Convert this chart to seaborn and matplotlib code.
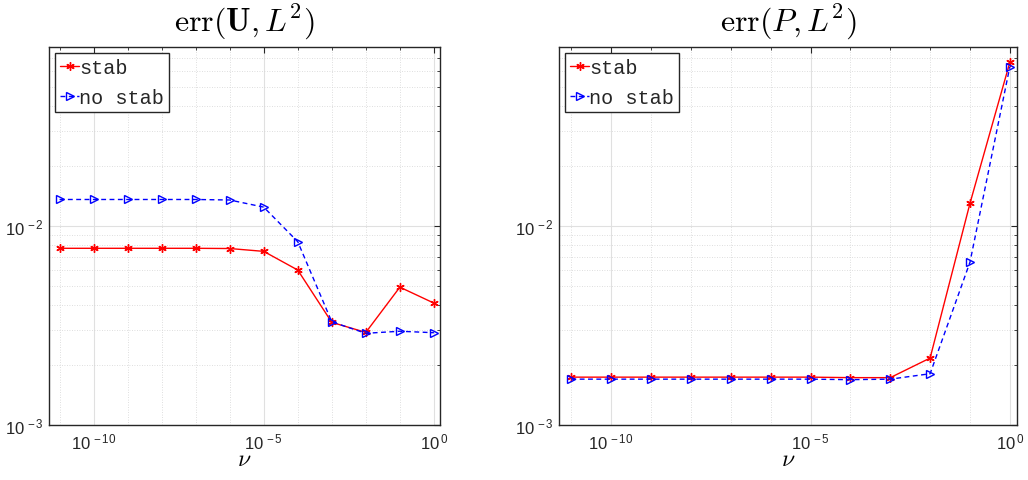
import math
import matplotlib
matplotlib.use("Agg")
import matplotlib.pyplot as plt
import matplotlib.ticker as mticker
import pandas as pd
import seaborn as sns

# ---- data ----
nu = [1e-11, 1e-10, 1e-9, 1e-8, 1e-7, 1e-6, 1e-5, 1e-4, 1e-3, 1e-2, 1e-1, 1e0]
u_stab = [0.00773, 0.00773, 0.00773, 0.00773, 0.00773, 0.00771,
          0.00746, 0.00601, 0.00328, 0.00292, 0.00493, 0.00410]
u_nostab = [0.0136, 0.0136, 0.0136, 0.0136, 0.0136, 0.01352,
            0.01245, 0.00834, 0.00330, 0.00289, 0.00296, 0.00291]
p_stab = [0.00174, 0.00174, 0.00174, 0.00174, 0.00174, 0.00174,
          0.00174, 0.00173, 0.00173, 0.00217, 0.0130, 0.0665]
p_nostab = [0.00170, 0.00170, 0.00170, 0.00170, 0.00170, 0.00170,
            0.00170, 0.00169, 0.00170, 0.00181, 0.00658, 0.0632]
titles = [r"$\mathrm{err}(\mathbf{U},L^2)$", r"$\mathrm{err}(P,L^2)$"]
series_names = ["stab", "no stab"]
xlabel = r"$\nu$"

sns.set_style("white")
plt.rcParams["font.family"] = ["Liberation Sans", "DejaVu Sans"]
plt.rcParams["mathtext.fontset"] = "custom"
plt.rcParams["mathtext.rm"] = "Liberation Sans"
plt.rcParams["mathtext.it"] = "Liberation Sans:italic"
plt.rcParams["mathtext.bf"] = "Liberation Sans:bold"

fig = plt.figure(figsize=(10.28, 4.81), dpi=100)
positions = [
    [49 / 1028, 1 - 426 / 481, (440 - 49) / 1028, (426 - 48) / 481],
    [559 / 1028, 1 - 426 / 481, (1017 - 559) / 1028, (426 - 48) / 481],
]
data = [(u_stab, u_nostab), (p_stab, p_nostab)]

asterisk = (6, 2, 0)
axis_col = "#262626"


def fmt(v, pos):
    e = int(round(math.log10(v)))
    return r"$10^{\,%d}$" % e


for i in range(2):
    ax = fig.add_axes(positions[i])
    s, ns = data[i]
    df = pd.DataFrame({"nu": nu, "stab": s, "nostab": ns})
    sns.lineplot(data=df, x="nu", y="stab", ax=ax, color=(1, 0, 0), lw=1.0,
                 label=series_names[0])
    red_line = ax.lines[-1]
    red_line.set_linestyle("-")
    red_line.set_marker(asterisk)
    red_line.set_markersize(6)
    red_line.set_markeredgewidth(1.0)
    red_line.set_markeredgecolor((1, 0, 0))
    red_line.set_markerfacecolor((1, 0, 0))

    sns.lineplot(data=df, x="nu", y="nostab", ax=ax, color=(0, 0, 1), lw=1.0,
                 label=series_names[1])
    blue_line = ax.lines[-1]
    blue_line.set_linestyle((0, (3.5, 2.5)))
    blue_line.set_marker(">")
    blue_line.set_markersize(6)
    blue_line.set_markerfacecolor("none")
    blue_line.set_markeredgecolor((0, 0, 1))
    blue_line.set_markeredgewidth(1.0)

    ax.set_xscale("log")
    ax.set_yscale("log")
    ax.set_xlim(10 ** -11.31, 10 ** 0.18)
    ax.set_ylim(1e-3, 10 ** -1.1)

    ax.xaxis.set_major_locator(mticker.FixedLocator([1e-10, 1e-5, 1e0]))
    ax.xaxis.set_minor_locator(mticker.FixedLocator(
        [10.0 ** k for k in range(-11, 1) if k not in (-10, -5, 0)]))
    ax.yaxis.set_major_locator(mticker.FixedLocator([1e-3, 1e-2]))
    ax.yaxis.set_minor_locator(mticker.LogLocator(base=10, subs=range(2, 10), numticks=20))
    ax.xaxis.set_major_formatter(mticker.FuncFormatter(fmt))
    ax.yaxis.set_major_formatter(mticker.FuncFormatter(fmt))
    ax.xaxis.set_minor_formatter(mticker.NullFormatter())
    ax.yaxis.set_minor_formatter(mticker.NullFormatter())

    ax.grid(True, which="major", color="#e0e0e0", lw=0.8, ls="-")
    ax.grid(True, which="minor", color="#d4d4d4", lw=0.6, ls=(0, (1, 2)))
    ax.set_axisbelow(True)

    ax.tick_params(which="both", direction="in", top=True, right=True,
                   colors=axis_col, labelcolor="#262626", labelsize=12)
    ax.tick_params(which="major", length=4.5, width=0.8)
    ax.tick_params(which="minor", length=2.5, width=0.6)
    ax.tick_params(axis="x", pad=5)
    for sp in ax.spines.values():
        sp.set_color(axis_col)
        sp.set_linewidth(1.0)

    ax.set_title(titles[i], fontsize=23, pad=12, math_fontfamily="cm", color="black")
    ax.set_xlabel(xlabel, fontsize=17, math_fontfamily="cm", labelpad=-3, color="black")
    ax.set_ylabel("")

    leg = ax.legend(loc="upper left", prop={"family": "Liberation Mono", "size": 14.5},
                    frameon=True, fancybox=False, framealpha=1, edgecolor="#262626",
                    handlelength=0.95, handletextpad=0.0, borderpad=0.25,
                    labelspacing=0.55, borderaxespad=0.3)
    leg.get_frame().set_linewidth(1.0)

fig.savefig("out.png", dpi=100, facecolor="white")
